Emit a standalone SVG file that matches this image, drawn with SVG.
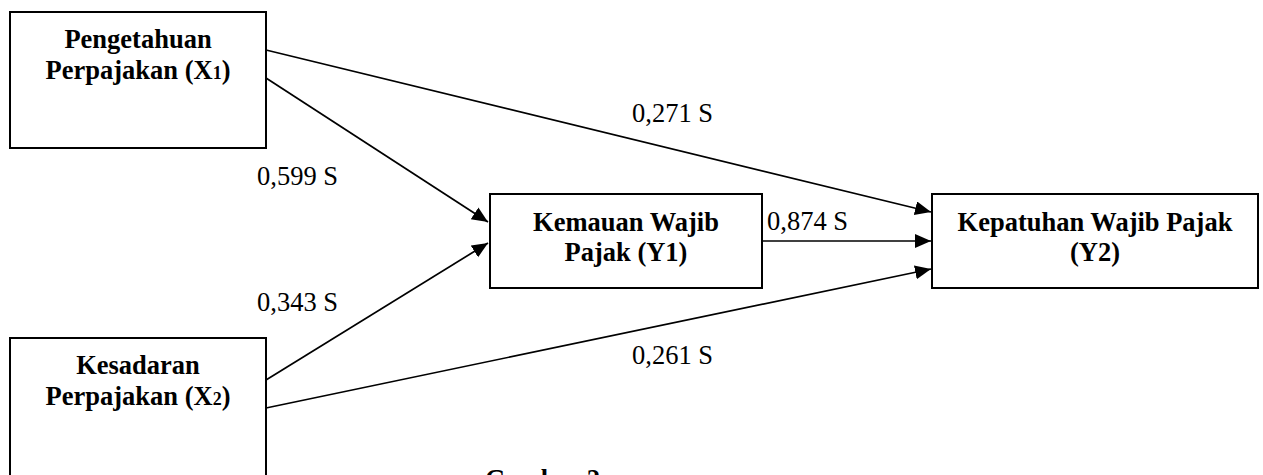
<svg xmlns="http://www.w3.org/2000/svg" width="1263" height="475" viewBox="0 0 1263 475">
<style>
.box{fill:#fff;stroke:#000;stroke-width:2}
.t{font-family:"Liberation Serif","Times New Roman",serif;font-size:26.5px;font-weight:bold;fill:#000;text-anchor:middle}
.l{font-family:"Liberation Serif","Times New Roman",serif;font-size:26.5px;fill:#000}
.c{stroke:#000;stroke-width:1.7;fill:none;marker-end:url(#ah)}
</style>
<defs>
<marker id="ah" markerUnits="userSpaceOnUse" markerWidth="18" markerHeight="16" refX="16" refY="7" orient="auto">
<path d="M0,0 L16,7 L0,14 z" fill="#000"/>
</marker>
</defs>
<rect width="1263" height="475" fill="#fff"/>
<g id="connectors">
<line class="c" x1="266" y1="50" x2="931" y2="212"/>
<line class="c" x1="266" y1="78" x2="488" y2="222"/>
<line class="c" x1="266" y1="380" x2="488" y2="243"/>
<line class="c" x1="266" y1="408" x2="931" y2="269"/>
<line class="c" x1="762" y1="241" x2="931" y2="241"/>
</g>
<g id="x1">
<rect class="box" x="10" y="12" width="256" height="136"/>
<text class="t" x="138" y="48">Pengetahuan</text>
<text class="t" x="138" y="79">Perpajakan (X<tspan font-size="18">1</tspan>)</text>
</g>
<g id="x2">
<rect class="box" x="10" y="338" width="256" height="170"/>
<text class="t" x="138" y="374">Kesadaran</text>
<text class="t" x="138" y="405">Perpajakan (X<tspan font-size="18">2</tspan>)</text>
</g>
<g id="y1">
<rect class="box" x="490" y="194" width="272" height="94"/>
<text class="t" x="626" y="231">Kemauan Wajib</text>
<text class="t" x="626" y="261">Pajak (Y1)</text>
</g>
<g id="y2">
<rect class="box" x="932" y="194" width="326" height="94"/>
<text class="t" x="1095" y="231">Kepatuhan Wajib Pajak</text>
<text class="t" x="1095" y="261">(Y2)</text>
</g>
<g id="labels">
<text class="l" x="632" y="122">0,271 S</text>
<text class="l" x="257" y="185">0,599 S</text>
<text class="l" x="257" y="311">0,343 S</text>
<text class="l" x="767" y="230">0,874 S</text>
<text class="l" x="632" y="364">0,261 S</text>
<text class="t" x="485" y="488" style="text-anchor:start">Gambar 2</text>
</g>
</svg>
